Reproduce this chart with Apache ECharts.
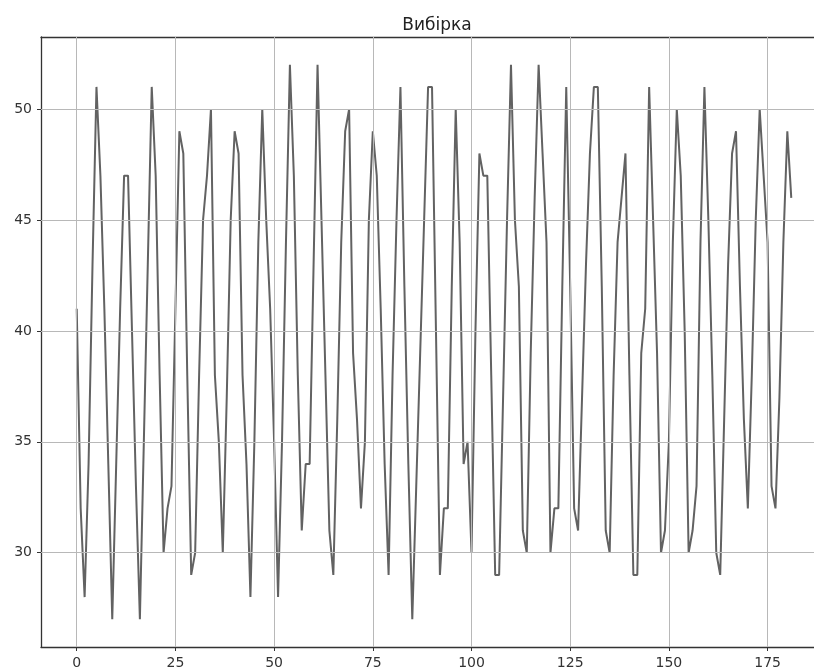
<!DOCTYPE html>
<html>
<head>
<meta charset="utf-8">
<script src="https://cdn.jsdelivr.net/npm/echarts@6/dist/echarts.min.js"></script>
<style>
html,body{margin:0;padding:0;background:#fff;overflow:hidden;width:814px;height:672px;}
#chart{width:830px;height:672px;}
</style>
</head>
<body>
<div id="chart"></div>
<script>
const chartTitle = 'Вибірка';
const sampleValues = [
41,32,28,34,43,51,47,41,34,27,
34,41,47,47,40,33,27,35,43,51,
47,38,30,32,33,41,49,48,38,29,
30,38,45,47,50,38,35,30,37,45,
49,48,38,34,28,35,44,50,45,41,
35,28,35,44,52,47,38,31,34,34,
43,52,45,38,31,29,36,44,49,50,
39,36,32,35,45,49,47,41,34,29,
38,45,51,42,34,27,33,39,45,51,
51,40,29,32,32,42,50,44,34,35,
30,40,48,47,47,38,29,29,37,45,
52,45,42,31,30,39,46,52,48,44,
30,32,32,42,51,42,32,31,37,43,
48,51,51,42,31,30,38,44,46,48,
38,29,29,39,41,51,45,39,30,31,
35,44,50,47,40,30,31,33,44,51,
45,38,30,29,36,43,48,49,42,36,
32,38,45,50,47,44,33,32,37,44,
49,46
];
const xTicks = [0, 25, 50, 75, 100, 125, 150, 175];
const yTicks = [30, 35, 40, 45, 50];
const xRange = [-9.05, 190.05];
const yRange = [25.75, 53.25];

const seriesData = sampleValues.map((v, i) => [i, v]);
const gridMarks = xTicks.map(x => ({ xAxis: x })).concat(yTicks.map(y => ({ yAxis: y })));

const chart = echarts.init(document.getElementById('chart'), null, { renderer: 'canvas' });
const fontFam = 'DejaVu Sans, sans-serif';
chart.setOption({
  animation: false,
  backgroundColor: '#ffffff',
  title: {
    text: chartTitle,
    left: 432,
    top: 12,
    textAlign: 'center',
    textStyle: { fontFamily: fontFam, fontSize: 17, fontWeight: 'normal', color: '#222' }
  },
  grid: { left: 41, top: 37, width: 786, height: 610, containLabel: false },
  xAxis: [{
    type: 'value',
    min: xRange[0], max: xRange[1],
    axisLine: { show: true, onZero: false, lineStyle: { color: '#333', width: 1.3 } },
    axisTick: { show: true, customValues: xTicks, length: 4, lineStyle: { color: '#333', width: 1 } },
    axisLabel: { customValues: xTicks, margin: 9, fontFamily: fontFam, fontSize: 14, color: '#333', showMinLabel: true, showMaxLabel: true },
    splitLine: { show: false }
  }, {
    type: 'value', position: 'top',
    min: xRange[0], max: xRange[1],
    axisLine: { show: true, onZero: false, lineStyle: { color: '#333', width: 1.3 } },
    axisTick: { show: false }, axisLabel: { show: false }, splitLine: { show: false }
  }],
  yAxis: [{
    type: 'value',
    min: yRange[0], max: yRange[1],
    axisLine: { show: true, onZero: false, lineStyle: { color: '#333', width: 1.3 } },
    axisTick: { show: true, customValues: yTicks, length: 4, lineStyle: { color: '#333', width: 1 } },
    axisLabel: { customValues: yTicks, margin: 9, fontFamily: fontFam, fontSize: 14, color: '#333' },
    splitLine: { show: false }
  }],
  series: [{
    type: 'line',
    z: 1,
    data: seriesData,
    showSymbol: false,
    symbol: 'none',
    silent: true,
    lineStyle: { opacity: 0 },
    markLine: {
      silent: true,
      symbol: ['none', 'none'],
      label: { show: false },
      lineStyle: { color: '#b8b8b8', width: 1, type: 'solid' },
      emphasis: { disabled: true },
      data: gridMarks
    }
  }, {
    type: 'line',
    z: 3,
    data: seriesData,
    showSymbol: false,
    symbol: 'none',
    lineStyle: { color: '#626262', width: 2 }
  }]
});
</script>
</body>
</html>
